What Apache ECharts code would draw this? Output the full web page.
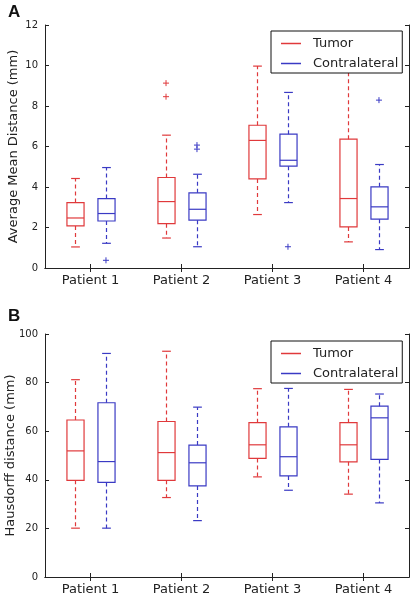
<!DOCTYPE html>
<html><head><meta charset="utf-8">
<script src="https://cdn.jsdelivr.net/npm/echarts@6/dist/echarts.min.js"></script>
<style>html,body{margin:0;padding:0;background:#fff}#c{width:414px;height:599px}</style>
</head><body><div id="c"></div>
<script>
const categories = ['Patient 1', 'Patient 2', 'Patient 3', 'Patient 4'];
const seriesNames = ['Tumor', 'Contralateral'];
// each entry: [min, q1, median, q3, max]
const amdTumor = [[1.04, 2.08, 2.47, 3.23, 4.42], [1.48, 2.19, 3.28, 4.47, 6.56], [2.64, 4.40, 6.30, 7.05, 9.97], [1.29, 2.03, 3.43, 6.36, 10.8]];
const amdContra = [[1.22, 2.32, 2.69, 3.43, 4.96], [1.05, 2.36, 2.90, 3.71, 4.63], [3.23, 5.03, 5.32, 6.61, 8.67], [0.91, 2.41, 3.02, 4.01, 5.11]];
const amdTumorOutliers = [[1, 9.13], [1, 8.46]];
const amdContraOutliers = [[0, 0.38], [1, 6.07], [1, 5.87], [2, 1.05], [3, 8.29]];
const hdTumor = [[20.1, 39.8, 51.9, 64.6, 81.2], [32.7, 39.8, 51.2, 64.0, 92.9], [41.2, 48.8, 54.4, 63.5, 77.5], [34.1, 47.4, 54.4, 63.5, 77.2]];
const hdContra = [[20.1, 38.9, 47.5, 71.7, 92.0], [23.2, 37.5, 47.0, 54.3, 69.9], [35.7, 41.6, 49.5, 61.8, 77.6], [30.5, 48.4, 65.5, 70.3, 75.3]];
const hdTumorOutliers = [];
const hdContraOutliers = [];
const amdTicks = [0, 2, 4, 6, 8, 10, 12];
const hdTicks = [0, 20, 40, 60, 80, 100];

const RED = '#e0393b';
const BLUE = '#3a3ac4';
const AX = '#222';
const FONT = 'DejaVu Sans';

function boxRender(side) {
  return function (params, api) {
    const cat = api.value(0);
    const band = api.size([1, 0])[0];
    const off = side * band * 0.17;
    const hw = band * 0.094;
    const cw = band * 0.048;
    const x = Math.round(api.coord([cat, api.value(3)])[0] + off) + 0.5;
    const y = i => api.coord([cat, api.value(i)])[1];
    const yMin = y(1), yQ1 = y(2), yMed = y(3), yQ3 = y(4), yMax = y(5);
    const color = api.visual('color');
    const solid = { stroke: color, lineWidth: 1.2, fill: null };
    const dashed = { stroke: color, lineWidth: 1.2, lineDash: [4, 3], fill: null };
    return {
      type: 'group', children: [
        { type: 'line', shape: { x1: x, y1: yQ3, x2: x, y2: yMax }, style: dashed },
        { type: 'line', shape: { x1: x, y1: yQ1, x2: x, y2: yMin }, style: dashed },
        { type: 'line', shape: { x1: x - cw, y1: yMax, x2: x + cw, y2: yMax }, style: solid },
        { type: 'line', shape: { x1: x - cw, y1: yMin, x2: x + cw, y2: yMin }, style: solid },
        { type: 'rect', shape: { x: x - hw, y: yQ3, width: 2 * hw, height: yQ1 - yQ3 }, style: { stroke: color, lineWidth: 1.2, fill: null } },
        { type: 'line', shape: { x1: x - hw, y1: yMed, x2: x + hw, y2: yMed }, style: solid }
      ]
    };
  };
}
function plusRender(side) {
  return function (params, api) {
    const cat = api.value(0);
    const band = api.size([1, 0])[0];
    const p = api.coord([cat, api.value(1)]);
    const x = p[0] + side * band * 0.17;
    const yy = p[1];
    const s = 3;
    const color = api.visual('color');
    const st = { stroke: color, lineWidth: 1, fill: null };
    return {
      type: 'group', children: [
        { type: 'line', shape: { x1: x - s, y1: yy, x2: x + s, y2: yy }, style: st },
        { type: 'line', shape: { x1: x, y1: yy - s, x2: x, y2: yy + s }, style: st }
      ]
    };
  };
}
function boxData(arr) { return arr.map((d, i) => [i].concat(d)); }

function xAxes(grid) {
  const base = {
    type: 'category', data: categories, gridIndex: grid, boundaryGap: true,
    axisLine: { show: true, lineStyle: { color: AX, width: 1 } },
    axisTick: { show: true, inside: true, alignWithLabel: true, length: 4, lineStyle: { color: AX } },
    splitLine: { show: false }
  };
  return [
    Object.assign({}, base, { position: 'bottom', axisLabel: { fontSize: 13, color: AX, margin: 6, fontFamily: FONT } }),
    Object.assign({}, base, { position: 'top', axisLabel: { show: false } })
  ];
}
function yAxes(grid, max, interval, name, gap) {
  const base = {
    type: 'value', gridIndex: grid, min: 0, max: max, interval: interval,
    axisLine: { show: true, lineStyle: { color: AX, width: 1 } },
    axisTick: { show: true, inside: true, length: 4, lineStyle: { color: AX } },
    splitLine: { show: false }
  };
  return [
    Object.assign({}, base, {
      position: 'left', name: name, nameLocation: 'middle', nameGap: gap, nameMoveOverlap: false,
      nameTextStyle: { fontSize: 13, color: AX, fontFamily: FONT },
      axisLabel: { fontSize: 10, color: AX, margin: 7, fontFamily: FONT }
    }),
    Object.assign({}, base, { position: 'right', axisLabel: { show: false } })
  ];
}

const panels = [
  { grid: 0, tumor: amdTumor, contra: amdContra, tOut: amdTumorOutliers, cOut: amdContraOutliers },
  { grid: 1, tumor: hdTumor, contra: hdContra, tOut: hdTumorOutliers, cOut: hdContraOutliers }
];
const series = [];
panels.forEach(p => {
  const xi = p.grid * 2, yi = p.grid * 2;
  series.push({ type: 'custom', name: seriesNames[0], xAxisIndex: xi, yAxisIndex: yi, itemStyle: { color: RED }, renderItem: boxRender(-1), data: boxData(p.tumor), encode: { x: 0, y: [1, 2, 3, 4, 5] }, z: 2 });
  series.push({ type: 'custom', name: seriesNames[1], xAxisIndex: xi, yAxisIndex: yi, itemStyle: { color: BLUE }, renderItem: boxRender(1), data: boxData(p.contra), encode: { x: 0, y: [1, 2, 3, 4, 5] }, z: 2 });
  series.push({ type: 'custom', name: seriesNames[0], xAxisIndex: xi, yAxisIndex: yi, itemStyle: { color: RED }, renderItem: plusRender(-1), data: p.tOut, encode: { x: 0, y: 1 }, z: 2 });
  series.push({ type: 'custom', name: seriesNames[1], xAxisIndex: xi, yAxisIndex: yi, itemStyle: { color: BLUE }, renderItem: plusRender(1), data: p.cOut, encode: { x: 0, y: 1 }, z: 2 });
});

function legend(top) {
  return {
    left: 271, top: top, orient: 'vertical', width: 120,
    backgroundColor: '#fff', borderColor: '#111', borderWidth: 1, borderRadius: 0,
    padding: [6, 4, 3, 10], itemGap: 7, itemWidth: 20, itemHeight: 1.5,
    icon: 'rect', z: 10,
    data: seriesNames,
    textStyle: { fontSize: 13, color: AX, fontFamily: FONT, padding: [0, 0, 0, 7] },
    selectedMode: false
  };
}

const chart = echarts.init(document.getElementById('c'), null, { renderer: 'canvas' });
chart.setOption({
  backgroundColor: '#fff',
  animation: false,
  title: [
    { text: 'A', left: 8, top: 4, padding: 0, textStyle: { fontSize: 17, fontWeight: 'bold', color: '#111', fontFamily: 'Liberation Sans' } },
    { text: 'B', left: 8, top: 308, padding: 0, textStyle: { fontSize: 17, fontWeight: 'bold', color: '#111', fontFamily: 'Liberation Sans' } }
  ],
  grid: [
    { left: 45, right: 5, top: 25, height: 243, containLabel: false, outerBoundsMode: 'none' },
    { left: 45, right: 5, top: 334, height: 243, containLabel: false, outerBoundsMode: 'none' }
  ],
  legend: [legend(31), legend(341)],
  xAxis: xAxes(0).concat(xAxes(1)),
  yAxis: yAxes(0, amdTicks[amdTicks.length - 1], amdTicks[1] - amdTicks[0], 'Average Mean Distance (mm)', 25)
    .concat(yAxes(1, hdTicks[hdTicks.length - 1], hdTicks[1] - hdTicks[0], 'Hausdorff distance (mm)', 28)),
  series: series
});
</script>
</body></html>
